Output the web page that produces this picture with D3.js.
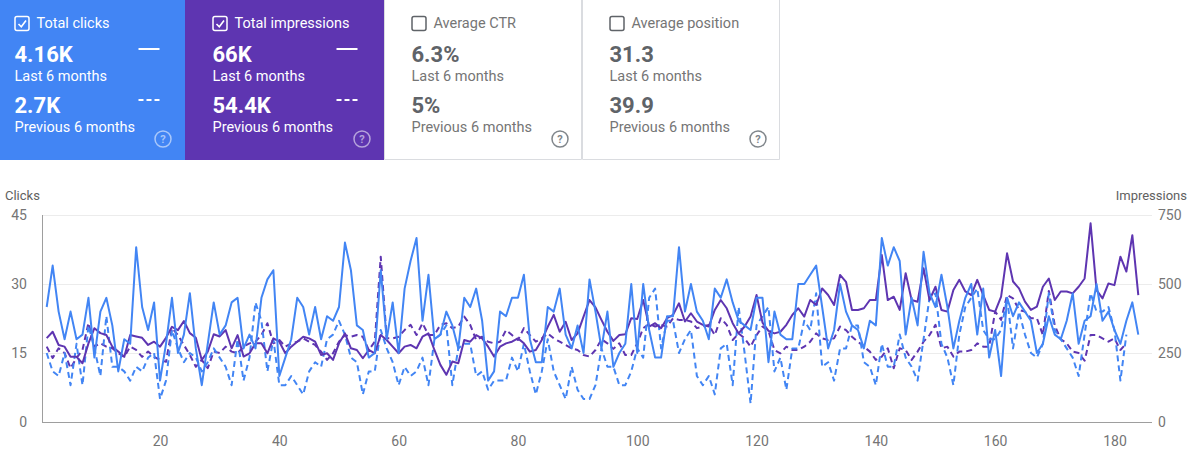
<!DOCTYPE html>
<html>
<head>
<meta charset="utf-8">
<script src="https://cdn.jsdelivr.net/npm/d3@7"></script>
<style>
  body { margin: 0; background: #fff; }
  svg { display: block; font-family: Roboto, 'Noto Sans', sans-serif; }
</style>
</head>
<body>
<svg id="chart"></svg>
<script>
// summary cards
const cardTitles = ['Total clicks', 'Total impressions', 'Average CTR', 'Average position'];
const cardLast = ['4.16K', '66K', '6.3%', '31.3'];
const cardPrev = ['2.7K', '54.4K', '5%', '39.9'];
const cardSelected = [true, true, false, false];
const periodLabels = ['Last 6 months', 'Previous 6 months'];

// daily series, day 1..n
const clicksLast = [
  25, 34, 24, 18, 24, 18, 19, 27, 14, 24, 27, 21, 11, 18, 17, 38, 25, 20, 26, 9, 17, 27, 15, 19, 28, 16, 8, 17, 26, 19, 21,
  26, 27, 16, 19, 16, 27, 31, 33, 10, 14, 18, 27, 25, 19, 25, 18, 23, 22, 25, 39, 33, 21, 20, 14, 15, 33, 18, 26, 15, 29,
  35, 40, 22, 32, 18, 19, 24, 21, 16, 27, 25, 29, 22, 9, 11, 24, 23, 27, 27, 32, 18, 13, 13, 25, 24, 29, 19, 16, 21, 15, 31,
  24, 16, 24, 12, 15, 17, 30, 15, 30, 20, 14, 14, 23, 23, 38, 24, 30, 24, 22, 18, 29, 27, 31, 26, 22, 21, 20, 27, 27, 13,
  24, 19, 18, 18, 30, 30, 32, 34, 25, 16, 20, 30, 24, 21, 20, 16, 22, 21, 40, 34, 38, 35, 19, 27, 21, 37, 28, 25, 32, 25,
  16, 22, 27, 30, 19, 29, 14, 20, 10, 27, 23, 26, 24, 22, 15, 17,
  23, 19, 18, 22, 28, 17, 22, 23, 30, 22, 24, 20, 17, 22, 26, 19
];
const impressionsLast = [
  304, 327, 279, 273, 236, 236, 213, 285, 340, 322, 315, 273, 255, 236, 315, 310, 305, 279, 291, 273, 305, 345, 333, 366, 322, 305, 225, 255, 318, 310, 333,
  267, 315, 237, 249, 285, 285, 249, 303, 291, 249, 273, 291, 309, 303, 291, 243, 249, 225, 285, 321, 267, 261, 231, 261, 249, 315, 297, 273, 249, 273,
  279, 267, 309, 321, 261, 207, 171, 219, 213, 297, 291, 315, 303, 273, 237, 273, 285, 291, 303, 285, 255, 261, 297, 345, 388, 327, 363, 297, 321, 382, 442,
  415, 370, 327, 294, 315, 318, 376, 373, 442, 346, 358, 340, 376, 388, 430, 364, 394, 364, 352, 346, 406, 442, 412, 358, 321, 346, 382, 460, 360, 330,
  321, 327, 352, 388, 412, 382, 442, 424, 484, 460, 424, 533, 508, 406, 406, 412, 442, 442, 605, 442, 454, 406, 539, 442, 436, 557, 442, 490, 406, 400,
  478, 515, 473, 460, 515, 460, 406, 400, 454, 611, 509, 484, 436, 406, 418,
  490, 520, 442, 473, 473, 466, 490, 520, 720, 478, 448, 502, 496, 599, 545, 677, 460
];
const clicksPrev = [
  15, 11, 10, 15, 8, 17, 8, 21, 16, 10, 23, 12, 12, 11, 9, 12, 11, 14, 15, 5, 9, 20, 16, 13, 15, 14, 11, 13, 16, 14, 12,
  8, 18, 9, 14, 26, 22, 11, 18, 8, 8, 10, 8, 6, 11, 13, 12, 18, 19, 22, 19, 14, 13, 6, 11, 11, 20, 16, 13, 8, 12,
  10, 11, 14, 8, 18, 19, 21, 8, 16, 17, 17, 10, 11, 7, 9, 9, 9, 14, 11, 17, 11, 6, 11, 18, 11, 8, 5, 12, 7, 5, 5,
  8, 16, 12, 12, 8, 8, 11, 16, 14, 27, 29, 16, 22, 22, 15, 18, 20, 10, 8, 10, 6, 16, 17, 8, 25, 15, 4, 21, 23, 25,
  11, 14, 7, 16, 16, 22, 20, 28, 12, 13, 9, 16, 16, 21, 21, 13, 12, 8, 17, 12, 12, 19, 14, 12, 9, 18, 27, 28, 17, 14,
  8, 19, 25, 27, 29, 20, 18, 18, 20, 27, 16, 24, 19, 15, 14, 17, 28, 20, 18, 16, 14, 10, 19, 28, 24, 24, 25, 20, 9, 19
];
const impressionsPrev = [
  273, 232, 267, 250, 195, 232, 261, 359, 273, 285, 273, 267, 250, 236, 273, 261, 236, 255, 236, 225, 218, 340, 315, 279, 243, 200, 225, 195, 255, 250, 273,
  255, 249, 273, 285, 291, 315, 358, 285, 297, 273, 285, 291, 303, 291, 279, 255, 225, 249, 291, 315, 309, 315, 309, 261, 291, 599, 303, 303, 309, 333,
  352, 315, 358, 315, 315, 352, 358, 340, 346, 382, 352, 297, 309, 291, 285, 291, 333, 315, 297, 340, 315, 291, 303,
  321, 303, 291, 279, 267, 261, 243, 237,
  261, 300, 285, 265, 285, 243, 243, 285, 340, 355, 346, 352, 346, 376, 370, 370, 364, 340, 346, 352, 315, 376, 352, 297, 321, 303, 273, 315, 346, 330,
  261, 249, 273, 261, 261, 273, 291, 321, 303, 297, 303, 346, 333, 309, 291, 273, 255, 225, 237, 267, 195, 267, 261, 225, 255, 291, 315, 352, 267, 273,
  237, 255, 255, 261, 285, 273, 273, 400, 370, 460, 448, 406, 400, 376, 376, 315, 475, 350, 300, 285, 255, 250, 222, 315, 315, 303, 291, 303, 261, 285
];

const clickTicks = [0, 15, 30, 45];
const impressionTicks = [0, 250, 500, 750];
const dayTicks = [20, 40, 60, 80, 100, 120, 140, 160, 180];

const W = 1200, H = 469;
const blue = '#4285f4', purple = '#5e35b1';

const svg = d3.select('#chart').attr('width', W).attr('height', H);

// ---------- cards ----------
const cards = [
  { x: 0, w: 185, fill: blue },
  { x: 185, w: 199, fill: purple },
  { x: 384, w: 198, fill: '#fff' },
  { x: 582, w: 198, fill: '#fff' }
];

const card = svg.append('g').attr('class', 'cards')
  .selectAll('g')
  .data(cards)
  .enter()
  .append('g')
    .attr('transform', d => `translate(${d.x},0)`);

card.append('rect')
  .attr('width', d => d.w)
  .attr('height', 160)
  .attr('fill', d => d.fill);

// borders for the unselected cards
card.filter((d, i) => !cardSelected[i])
  .append('path')
    .attr('d', d => `M0.5,0V159.5H${d.w - 0.5}V0`)
    .attr('fill', 'none')
    .attr('stroke', '#dadce0');

card.each(function(d, i) {
  const g = d3.select(this);
  const sel = cardSelected[i];
  const fg = sel ? '#fff' : '#5f6368';
  const sub = sel ? '#fff' : '#757575';
  const pad = i === 0 ? 14.5 : 27.5;

  g.append('rect')
    .attr('x', pad + 0.5).attr('y', 16.5)
    .attr('width', 14).attr('height', 14)
    .attr('rx', 2)
    .attr('fill', 'none')
    .attr('stroke', fg)
    .attr('stroke-width', 1.5);
  if (sel) {
    g.append('path')
      .attr('d', `M${pad + 4},${24} L${pad + 6.8},${26.8} L${pad + 11.5},${20.5}`)
      .attr('fill', 'none')
      .attr('stroke', '#fff')
      .attr('stroke-width', 1.6);
  }
  g.append('text')
    .attr('x', pad + 22).attr('y', 28)
    .attr('fill', sel ? fg : '#757575')
    .style('font-size', '14.5px')
    .text(cardTitles[i]);

  const rows = [cardLast[i], cardPrev[i]];
  rows.forEach((v, r) => {
    const y0 = r * 51;
    g.append('text')
      .attr('x', pad).attr('y', 62 + y0)
      .attr('fill', fg)
      .style('font-size', '22px')
      .style('font-weight', 700)
      .text(v);
    g.append('text')
      .attr('x', pad).attr('y', 81 + y0)
      .attr('fill', sub)
      .style('font-size', '14.5px')
      .text(periodLabels[r]);
  });

  if (sel) {
    const lx = pad + 124;
    g.append('line')
      .attr('x1', lx).attr('x2', lx + 21)
      .attr('y1', 49).attr('y2', 49)
      .attr('stroke', '#fff').attr('stroke-width', 2);
    g.append('line')
      .attr('x1', lx).attr('x2', lx + 21)
      .attr('y1', 100).attr('y2', 100)
      .attr('stroke', '#fff').attr('stroke-width', 2)
      .attr('stroke-dasharray', '5,3');
  }

  const hx = d.w - 22, hy = 139;
  g.append('circle')
    .attr('cx', hx).attr('cy', hy).attr('r', 8)
    .attr('fill', 'none')
    .attr('stroke', sel ? 'rgba(255,255,255,0.55)' : '#80868b')
    .attr('stroke-width', 1.5);
  g.append('text')
    .attr('x', hx).attr('y', hy + 4)
    .attr('text-anchor', 'middle')
    .attr('fill', sel ? 'rgba(255,255,255,0.55)' : '#80868b')
    .style('font-size', '11px')
    .style('font-weight', 700)
    .text('?');
});

// ---------- chart ----------
const plot = { left: 42, right: 1152, top: 215, bottom: 422 };

const x = d3.scaleLinear().domain([1, 184]).range([46.7, 1138.3]);
const yClicks = d3.scaleLinear().domain([0, 45]).range([plot.bottom, plot.top]);
const yImpr = d3.scaleLinear().domain([0, 750]).range([plot.bottom, plot.top]);

const chart = svg.append('g').attr('class', 'chart');

// grid
chart.append('g')
  .selectAll('line')
  .data(clickTicks.slice(1))
  .enter()
  .append('line')
    .attr('x1', plot.left).attr('x2', plot.right)
    .attr('y1', d => yClicks(d) + 0.5).attr('y2', d => yClicks(d) + 0.5)
    .attr('stroke', '#ececec');

// left axis
const leftAxis = chart.append('g')
  .attr('transform', `translate(${plot.left},0)`)
  .call(d3.axisLeft(yClicks).tickValues(clickTicks).tickSize(0).tickPadding(15));
leftAxis.select('.domain').remove();

// right axis
const rightAxis = chart.append('g')
  .attr('transform', `translate(${plot.right},0)`)
  .call(d3.axisRight(yImpr).tickValues(impressionTicks).tickSize(0).tickPadding(6));
rightAxis.select('.domain').remove();

// bottom axis
const bottomAxis = chart.append('g')
  .attr('transform', `translate(0,${plot.bottom})`)
  .call(d3.axisBottom(x).tickValues(dayTicks).tickSize(0).tickPadding(14));
bottomAxis.select('.domain').remove();

chart.selectAll('.tick text')
  .attr('fill', '#757575')
  .style('font-size', '14px')
  .style('font-family', 'Roboto, sans-serif');

chart.append('line')
  .attr('x1', plot.left + 0.5).attr('x2', plot.left + 0.5)
  .attr('y1', plot.top).attr('y2', plot.bottom)
  .attr('stroke', '#9e9e9e');
chart.append('line')
  .attr('x1', plot.left).attr('x2', plot.right)
  .attr('y1', plot.bottom + 0.5).attr('y2', plot.bottom + 0.5)
  .attr('stroke', '#9e9e9e');

chart.append('text')
  .attr('x', 5).attr('y', 200)
  .attr('fill', '#616161')
  .style('font-size', '13px')
  .text('Clicks');
chart.append('text')
  .attr('x', 1187).attr('y', 200)
  .attr('text-anchor', 'end')
  .attr('fill', '#616161')
  .style('font-size', '13px')
  .text('Impressions');

const series = [
  { values: impressionsPrev, y: yImpr, color: purple, dash: '6,4' },
  { values: clicksPrev, y: yClicks, color: blue, dash: '6,4' },
  { values: impressionsLast, y: yImpr, color: purple, dash: null },
  { values: clicksLast, y: yClicks, color: blue, dash: null }
];

chart.append('g')
  .selectAll('path')
  .data(series)
  .enter()
  .append('path')
    .attr('fill', 'none')
    .attr('stroke', d => d.color)
    .attr('stroke-width', 2)
    .attr('stroke-linejoin', 'round')
    .attr('stroke-dasharray', d => d.dash)
    .attr('d', d => d3.line()
      .x((v, i) => x(i + 1))
      .y(v => d.y(v))(d.values));
</script>
</body>
</html>
